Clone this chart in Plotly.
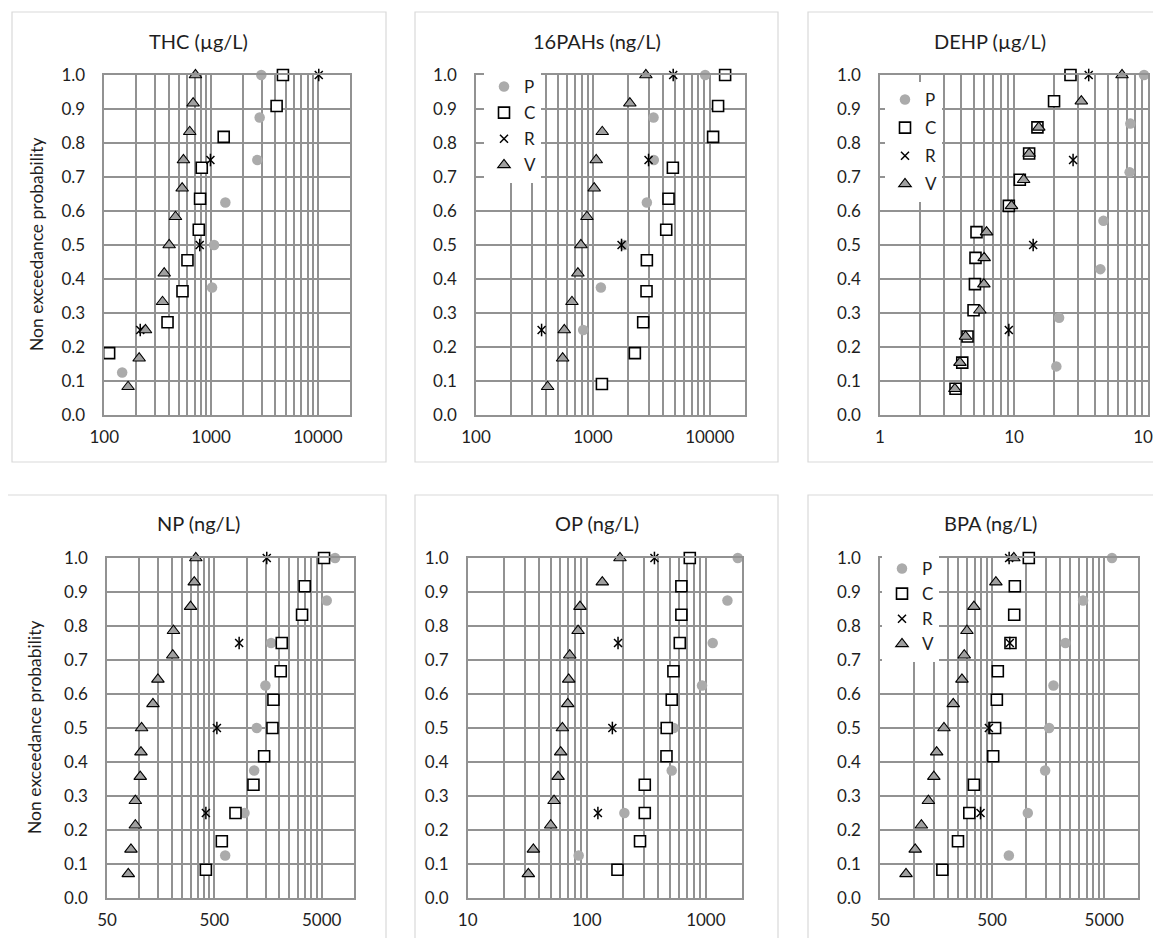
import math
import plotly.graph_objects as go

# ---------------- data ----------------
TITLES = ["THC (µg/L)", "16PAHs (ng/L)", "DEHP (µg/L)", "NP (ng/L)", "OP (ng/L)", "BPA (ng/L)"]
SERIES_NAMES = ["P", "C", "R", "V"]
X_RANGES = [(100, 20000), (100, 20000), (1, 100), (50, 10000), (10, 2000), (50, 10000)]
X_TICK_LABELS = [[100, 1000, 10000], [100, 1000, 10000], [1, 10, 100],
                 [50, 500, 5000], [10, 100, 1000], [50, 500, 5000]]
Y_AXIS_TITLE = "Non exceedance probability"

# THC (µg/L)
THC_P_x = [147, 1021, 1067, 1361, 2711, 2851, 2954]
THC_P_y = [0.125, 0.375, 0.5, 0.625, 0.75, 0.875, 1.0]
THC_C_x = [111, 391, 540, 601, 767, 789, 818, 1313, 4110, 4710]
THC_C_y = [0.182, 0.273, 0.364, 0.455, 0.545, 0.636, 0.727, 0.818, 0.909, 1.0]
THC_R_x = [217, 783, 986, 10200]
THC_R_y = [0.25, 0.5, 0.75, 1.0]
THC_V_x = [167, 212, 243, 351, 364, 405, 464, 536, 551, 631, 679, 714]
THC_V_y = [0.083, 0.167, 0.25, 0.333, 0.417, 0.5, 0.583, 0.667, 0.75, 0.833, 0.917, 1.0]

# 16PAHs (ng/L)
PAH_P_x = [826, 1170, 1853, 2895, 3320, 3300, 9120]
PAH_P_y = [0.25, 0.375, 0.5, 0.625, 0.75, 0.875, 1.0]
PAH_C_x = [1194, 2285, 2692, 2875, 2895, 4237, 4436, 4831, 10670, 11770, 13520]
PAH_C_y = [0.091, 0.182, 0.273, 0.364, 0.455, 0.545, 0.636, 0.727, 0.818, 0.909, 1.0]
PAH_R_x = [364, 1758, 2992, 4862]
PAH_R_y = [0.25, 0.5, 0.75, 1.0]
PAH_V_x = [410, 551, 569, 662, 744, 789, 889, 1026, 1067, 1202, 2070, 2838]
PAH_V_y = [0.083, 0.167, 0.25, 0.333, 0.417, 0.5, 0.583, 0.667, 0.75, 0.833, 0.917, 1.0]

# DEHP (µg/L)
DEHP_P_x = [20.7, 21.7, 44.1, 46.5, 72.9, 73.8, 93.4]
DEHP_P_y = [0.143, 0.286, 0.429, 0.571, 0.714, 0.857, 1.0]
DEHP_C_x = [3.66, 4.11, 4.50, 4.99, 5.11, 5.16, 5.25, 9.15, 11.05, 12.97, 14.96, 19.9, 26.4]
DEHP_C_y = [0.077, 0.154, 0.231, 0.308, 0.385, 0.462, 0.538, 0.615, 0.692, 0.769, 0.846, 0.923, 1.0]
DEHP_R_x = [9.15, 13.9, 27.6, 36.1]
DEHP_R_y = [0.25, 0.5, 0.75, 1.0]
DEHP_V_x = [3.62, 3.95, 4.35, 5.56, 5.96, 5.99, 6.24, 9.58, 11.8, 12.97, 15.3, 31.8, 64.0]
DEHP_V_y = [0.077, 0.154, 0.231, 0.308, 0.385, 0.462, 0.538, 0.615, 0.692, 0.769, 0.846, 0.923, 1.0]

# NP (ng/L)
NP_P_x = [631, 955, 1175, 1242, 1496, 1690, 5570, 6660]
NP_P_y = [0.125, 0.25, 0.375, 0.5, 0.625, 0.75, 0.875, 1.0]
NP_C_x = [417, 587, 787, 1157, 1455, 1739, 1776, 2078, 2124, 3282, 3475, 5260]
NP_C_y = [0.083, 0.167, 0.25, 0.333, 0.417, 0.5, 0.583, 0.667, 0.75, 0.833, 0.917, 1.0]
NP_R_x = [417, 528, 851, 1539]
NP_R_y = [0.25, 0.5, 0.75, 1.0]
NP_V_x = [78.9, 83.6, 91.8, 91.8, 102, 103.6, 105, 134, 149, 205, 208, 300, 325, 336]
NP_V_y = [0.071, 0.143, 0.214, 0.286, 0.357, 0.429, 0.5, 0.571, 0.643, 0.714, 0.786, 0.857, 0.929, 1.0]

# OP (ng/L)
OP_P_x = [85.5, 207, 517, 537, 929, 1142, 1518, 1854]
OP_P_y = [0.125, 0.25, 0.375, 0.5, 0.625, 0.75, 0.875, 1.0]
OP_C_x = [181, 280, 307, 307, 467, 469, 517, 534, 604, 623, 623, 733]
OP_C_y = [0.083, 0.167, 0.25, 0.333, 0.417, 0.5, 0.583, 0.667, 0.75, 0.833, 0.917, 1.0]
OP_R_x = [124, 164, 183, 370]
OP_R_y = [0.25, 0.5, 0.75, 1.0]
OP_V_x = [32.3, 35.6, 49.8, 53.1, 57.4, 60.4, 62.4, 69.2, 70.5, 71.9, 84.5, 87.7, 135, 190]
OP_V_y = [0.071, 0.143, 0.214, 0.286, 0.357, 0.429, 0.5, 0.571, 0.643, 0.714, 0.786, 0.857, 0.929, 1.0]

# BPA (ng/L)
BPA_P_x = [705, 1040, 1485, 1612, 1762, 2254, 3238, 5860]
BPA_P_y = [0.125, 0.25, 0.375, 0.5, 0.625, 0.75, 0.875, 1.0]
BPA_C_x = [180, 248, 313, 344, 511, 532, 551, 562, 729, 787, 797, 1062]
BPA_C_y = [0.083, 0.167, 0.25, 0.333, 0.417, 0.5, 0.583, 0.667, 0.75, 0.833, 0.917, 1.0]
BPA_R_x = [394, 468, 719, 709]
BPA_R_y = [0.25, 0.5, 0.75, 1.0]
BPA_V_x = [85.3, 103, 117, 135, 151, 160, 186, 225, 269, 282, 298, 344, 540, 781]
BPA_V_y = [0.071, 0.143, 0.214, 0.286, 0.357, 0.429, 0.5, 0.571, 0.643, 0.714, 0.786, 0.857, 0.929, 1.0]

PANELS = [
    [(THC_P_x, THC_P_y), (THC_C_x, THC_C_y), (THC_R_x, THC_R_y), (THC_V_x, THC_V_y)],
    [(PAH_P_x, PAH_P_y), (PAH_C_x, PAH_C_y), (PAH_R_x, PAH_R_y), (PAH_V_x, PAH_V_y)],
    [(DEHP_P_x, DEHP_P_y), (DEHP_C_x, DEHP_C_y), (DEHP_R_x, DEHP_R_y), (DEHP_V_x, DEHP_V_y)],
    [(NP_P_x, NP_P_y), (NP_C_x, NP_C_y), (NP_R_x, NP_R_y), (NP_V_x, NP_V_y)],
    [(OP_P_x, OP_P_y), (OP_C_x, OP_C_y), (OP_R_x, OP_R_y), (OP_V_x, OP_V_y)],
    [(BPA_P_x, BPA_P_y), (BPA_C_x, BPA_C_y), (BPA_R_x, BPA_R_y), (BPA_V_x, BPA_V_y)],
]

# ---------------- layout / style ----------------
W, H = 1161, 938
PAGE_OFFSET = 8  # the page body margin shifts the figure by this many pixels
FONT = "Lato, 'Open Sans', sans-serif"
TXT = "#1E1E1E"
GRID = "#929292"
FRAME = "#D9D9D9"
P_COLOR = "#ABABAB"
V_COLOR = "#A0A0A0"

# plot areas in screen pixels: (left, right, top, bottom)
PLOT_PX = [(104.3, 350, 75, 415), (476, 745, 75, 415), (880, 1148, 75, 415),
           (107, 354, 558, 898), (467.7, 741.7, 558, 898), (880, 1138, 558, 898)]
FRAME_PX = [(12, 386, 12, 462), (415, 778, 12, 462), (808, 1160, 12, 462),
            (7, 386, 495, 950), (415, 778, 495, 950), (808, 1160, 495, 950)]
TITLE_PX = [(198, 41), (597, 41), (990, 41), (198, 523), (597, 523), (990, 523)]
YTITLE_PX = {0: (37, 245), 3: (34, 728)}
# legend top-left in pixels and extra gap between entries
LEGEND_PX = {1: (484, 69, 1), 2: (885, 82, 3), 5: (882, 551, 0)}
LEGEND_KEYS = {1: "legend", 2: "legend2", 5: "legend3"}


def gridvals(lo, hi):
    vals = []
    base = lo
    while base <= hi * 1.0001:
        for k in range(1, 10):
            v = base * k
            if v <= hi * 1.0001:
                vals.append(round(v, 6))
        base *= 10
    return sorted(set(vals))


def px2x(px):
    return (px - PAGE_OFFSET) / W


def py2y(py):
    return 1 - (py - PAGE_OFFSET) / H


fig = go.Figure()
layout = dict(width=W, height=H,
              margin=dict(l=0, r=0, t=0, b=0, pad=0, autoexpand=False),
              paper_bgcolor="white", plot_bgcolor="white",
              font=dict(family=FONT, color=TXT, size=17),
              showlegend=True, shapes=[], annotations=[])

for i, series in enumerate(PANELS):
    ax = "" if i == 0 else str(i + 1)
    xa, ya = "x" + ax, "y" + ax
    legend_name = LEGEND_KEYS.get(i)
    for s, (xs, ys) in enumerate(series):
        name = SERIES_NAMES[s]
        show = legend_name is not None
        common = dict(x=xs, y=ys, mode="markers", name=name, xaxis=xa, yaxis=ya,
                      cliponaxis=False, hoverinfo="x+y+name", legendgroup=f"{i}{name}")
        if legend_name:
            common["legend"] = legend_name
        if name == "P":
            fig.add_trace(go.Scatter(**common, showlegend=show,
                                     marker=dict(symbol="circle", size=10.5, color=P_COLOR)))
        elif name == "C":
            fig.add_trace(go.Scatter(**common, showlegend=show,
                                     marker=dict(symbol="square", size=11, color="white",
                                                 line=dict(color="black", width=1.6))))
        elif name == "R":
            fig.add_trace(go.Scatter(**common, showlegend=show,
                                     marker=dict(symbol="x-thin-open", size=8, color="black",
                                                 line=dict(color="black", width=1.5))))
            fig.add_trace(go.Scatter(**common, showlegend=False,
                                     marker=dict(symbol="line-ns-open", size=9, color="black",
                                                 line=dict(color="black", width=1.5))))
        else:
            fig.add_trace(go.Scatter(**common, showlegend=show,
                                     marker=dict(symbol="triangle-up", size=11, color=V_COLOR,
                                                 line=dict(color="black", width=1.1))))

    lo, hi = X_RANGES[i]
    gv = gridvals(lo, hi)
    labels = X_TICK_LABELS[i]
    ttext = [str(int(v)) if any(abs(v - lab) < 1e-6 for lab in labels) else "" for v in gv]
    l, r, t, b = PLOT_PX[i]
    layout["xaxis" + ax] = dict(
        type="log", range=[math.log10(lo), math.log10(hi)], domain=[px2x(l), px2x(r)],
        anchor=ya, tickmode="array", tickvals=gv, ticktext=ttext,
        showgrid=True, gridcolor=GRID, gridwidth=1.5, zeroline=False,
        showline=True, mirror=True, linecolor=GRID, linewidth=1.5, ticks="",
        tickfont=dict(size=17, color=TXT, family=FONT), ticklabelstandoff=6,
        automargin=False)
    layout["yaxis" + ax] = dict(
        range=[0, 1], domain=[py2y(b), py2y(t)], anchor=xa,
        tick0=0, dtick=0.1, tickformat=".1f",
        showgrid=True, gridcolor=GRID, gridwidth=1.5, zeroline=False,
        showline=True, mirror=True, linecolor=GRID, linewidth=1.5, ticks="",
        tickfont=dict(size=17, color=TXT, family=FONT), ticklabelstandoff=14,
        automargin=False)

    fl, fr, ft, fb = FRAME_PX[i]
    layout["shapes"].append(dict(type="rect", xref="paper", yref="paper",
                                 x0=px2x(fl), x1=px2x(fr), y0=py2y(fb), y1=py2y(ft),
                                 line=dict(color=FRAME, width=1.2), layer="below"))
    tx, ty = TITLE_PX[i]
    layout["annotations"].append(dict(text=TITLES[i], x=px2x(tx), y=py2y(ty),
                                      xref="paper", yref="paper", showarrow=False,
                                      xanchor="center", yanchor="middle",
                                      font=dict(size=20, color=TXT, family=FONT)))
    if i in YTITLE_PX:
        yx, yy = YTITLE_PX[i]
        layout["annotations"].append(dict(text=Y_AXIS_TITLE, x=px2x(yx), y=py2y(yy),
                                          xref="paper", yref="paper", showarrow=False,
                                          textangle=-90, xanchor="center", yanchor="middle",
                                          font=dict(size=17.5, color=TXT, family=FONT)))

for i, key in LEGEND_KEYS.items():
    lx, ly, gap = LEGEND_PX[i]
    layout[key] = dict(x=px2x(lx), y=py2y(ly), xanchor="left", yanchor="top",
                       bgcolor="white", borderwidth=0, itemwidth=30,
                       traceorder="grouped", tracegroupgap=gap,
                       font=dict(size=17, color=TXT, family=FONT),
                       itemclick=False, itemdoubleclick=False)

fig.update_layout(**layout)
fig.write_html("out.html")
